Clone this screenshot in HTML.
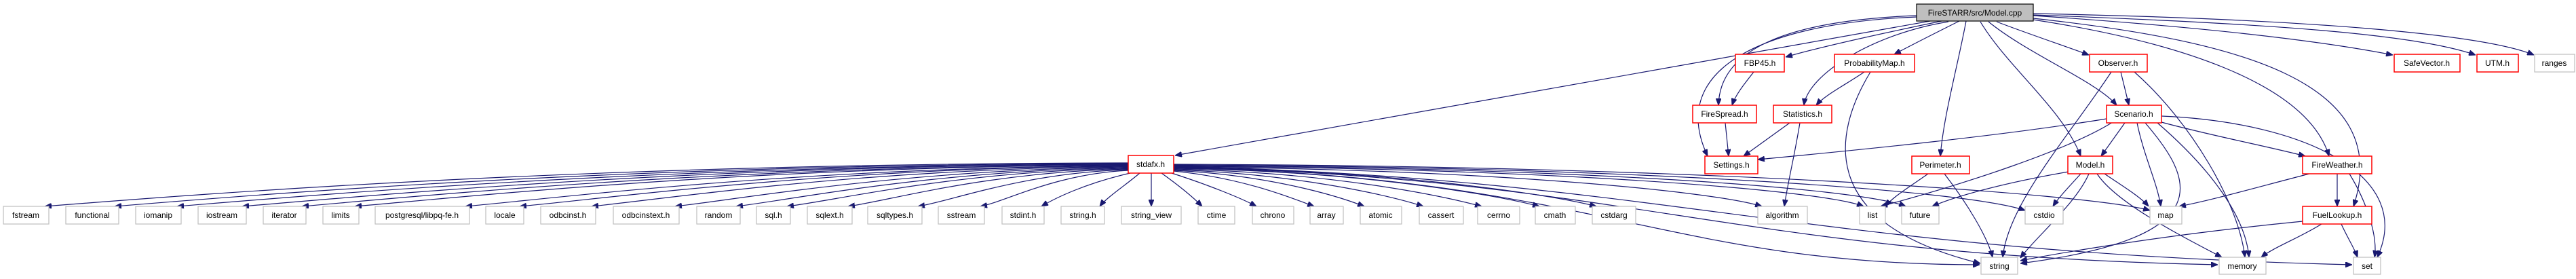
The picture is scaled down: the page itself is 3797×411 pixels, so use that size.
<!DOCTYPE html>
<html><head><meta charset="utf-8"><style>
html,body{margin:0;padding:0;background:#fff;}
svg{display:block;}
text{font-family:"Liberation Sans",sans-serif;font-size:12px;text-anchor:middle;fill:#000;}
.n{fill:#fff;stroke:#bfbfbf;stroke-width:1.2;}
.r{fill:#fff;stroke:#ff0000;stroke-width:1.5;}
.e{fill:none;stroke:#191970;stroke-width:1.2;marker-end:url(#a);}
</style></head><body>
<svg width="3797" height="411" viewBox="0 0 3797 411" xmlns="http://www.w3.org/2000/svg">
<defs><marker id="a" markerUnits="userSpaceOnUse" markerWidth="10" markerHeight="8" refX="10" refY="4" orient="auto"><path d="M0,0 L10,4 L0,8 z" fill="#191970" stroke="#191970"/></marker></defs>

<!-- edges from root -->
<path class="e" d="M2845,31 L1732,229"/>
<path class="e" d="M2862,31 C2770,50 2680,70 2632,84"/>
<path class="e" d="M2888,31 C2860,45 2820,65 2792,80"/>
<path class="e" d="M2825,23 C2640,30 2535,70 2533,155"/>
<path class="e" d="M2872,32 C2760,50 2665,110 2659,155"/>
<path class="e" d="M2825,25 C2580,35 2460,110 2517,230"/>
<path class="e" d="M2898,31 C2885,100 2865,170 2860,230"/>
<path class="e" d="M2919,32 C2960,100 3040,160 3067,230"/>
<path class="e" d="M2943,32 C2990,50 3050,70 3079,81"/>
<path class="e" d="M2931,32 C2990,80 3090,120 3120,155"/>
<path class="e" d="M2997,29 C3200,60 3400,120 3433,230"/>
<path class="e" d="M2997,27 C3300,60 3530,120 3469,304"/>
<path class="e" d="M2997,23 C3250,40 3420,60 3527,81"/>
<path class="e" d="M2997,22 C3350,35 3560,50 3649,81"/>
<path class="e" d="M2997,20 C3400,28 3660,50 3735,81"/>

<!-- mid edges -->
<path class="e" d="M2585,106 C2570,125 2558,140 2553,155"/>
<path class="e" d="M2543,181 L2548,230"/>
<path class="e" d="M2748,106 C2720,125 2690,140 2677,155"/>
<path class="e" d="M2757,106 C2700,200 2680,330 2919,388"/>
<path class="e" d="M2638,181 L2570,230"/>
<path class="e" d="M2653,181 C2645,230 2635,270 2630,304"/>
<path class="e" d="M3126,106 L3138,155"/>
<path class="e" d="M3112,106 C3050,200 2960,300 2952,379"/>
<path class="e" d="M3146,106 C3230,180 3300,300 3309,379"/>
<path class="e" d="M3105,175 C2950,200 2750,220 2591,235"/>
<path class="e" d="M3114,180 C3050,220 2900,270 2772,304"/>
<path class="e" d="M3132,181 L3097,230"/>
<path class="e" d="M3150,181 C3160,230 3180,270 3185,304"/>
<path class="e" d="M3162,181 C3230,260 3280,350 2978,388"/>
<path class="e" d="M3180,181 C3260,250 3310,320 3315,379"/>
<path class="e" d="M3186,180 C3260,200 3340,215 3398,230"/>
<path class="e" d="M3186,171 C3400,180 3560,260 3504,379"/>
<path class="e" d="M2842,256 C2815,275 2790,290 2779,304"/>
<path class="e" d="M2866,256 C2900,300 2930,350 2937,379"/>
<path class="e" d="M3049,253 C2950,270 2880,290 2848,304"/>
<path class="e" d="M3067,256 C3050,275 3035,290 3026,304"/>
<path class="e" d="M3102,256 C3130,275 3155,290 3167,304"/>
<path class="e" d="M3079,256 C3060,300 3000,350 2978,380"/>
<path class="e" d="M3091,256 C3120,300 3220,350 3275,379"/>
<path class="e" d="M3404,256 C3330,275 3260,295 3212,304"/>
<path class="e" d="M3445,256 L3445,304"/>
<path class="e" d="M3463,256 C3490,300 3505,350 3500,379"/>
<path class="e" d="M3394,326 C3200,345 3050,370 2978,384"/>
<path class="e" d="M3422,330 C3390,350 3350,365 3333,379"/>
<path class="e" d="M3451,330 C3460,350 3470,365 3475,379"/>

<!-- stdafx left fan -->
<path class="e" d="M1663,240 C865,241 306,285 66,304"/>
<path class="e" d="M1663,241 C915,242 390,286 169,304"/>
<path class="e" d="M1663,242 C962,243 470,287 261,304"/>
<path class="e" d="M1663,242 C1010,244 550,288 357,304"/>
<path class="e" d="M1663,243 C1054,245 620,289 445,304"/>
<path class="e" d="M1663,243 C1093,246 690,290 523,304"/>
<path class="e" d="M1663,244 C1175,247 830,291 686,304"/>
<path class="e" d="M1663,244 C1215,248 900,292 766,304"/>
<path class="e" d="M1663,245 C1268,249 990,292 872,304"/>
<path class="e" d="M1663,246 C1330,250 1095,293 995,304"/>
<path class="e" d="M1663,247 C1375,251 1170,294 1085,304"/>
<path class="e" d="M1663,248 C1410,252 1235,295 1160,304"/>
<path class="e" d="M1663,249 C1455,253 1310,296 1250,304"/>
<path class="e" d="M1663,250 C1510,254 1400,297 1353,304"/>
<path class="e" d="M1663,251 C1555,256 1480,298 1445,304"/>
<path class="e" d="M1666,255 C1600,270 1555,292 1535,304"/>
<path class="e" d="M1680,255 C1660,272 1630,292 1621,304"/>
<path class="e" d="M1697,255 L1697,304"/>
<!-- stdafx right fan -->
<path class="e" d="M1712,255 C1740,275 1760,292 1772,304"/>
<path class="e" d="M1727,255 C1780,272 1830,292 1852,304"/>
<path class="e" d="M1730,252 C1830,262 1900,290 1937,304"/>
<path class="e" d="M1730,251 C1870,258 1970,288 2011,304"/>
<path class="e" d="M1730,250 C1910,256 2050,288 2098,304"/>
<path class="e" d="M1730,249 C1960,254 2120,287 2184,304"/>
<path class="e" d="M1730,248 C2000,252 2200,286 2269,304"/>
<path class="e" d="M1730,247 C2040,250 2280,285 2353,304"/>
<path class="e" d="M1730,246 C2160,248 2520,280 2597,304"/>
<path class="e" d="M1730,245 C2250,247 2680,278 2747,304"/>
<path class="e" d="M1730,244 C2300,246 2740,276 2809,304"/>
<path class="e" d="M1730,243 C2400,245 2900,280 2985,310"/>
<path class="e" d="M1730,242 C2500,244 3080,285 3169,310"/>
<path class="e" d="M1730,247 C2350,260 2450,390 2918,390"/>
<path class="e" d="M1730,246 C2400,262 2550,375 3269,390"/>
<path class="e" d="M1730,245 C2450,262 2650,370 3467,390"/>

<!-- nodes -->
<rect x="2825" y="6" width="172" height="25" fill="#bfbfbf" stroke="#000" stroke-width="1.2"/><text x="2911" y="23">FireSTARR/src/Model.cpp</text>
<rect class="r" x="1663" y="229" width="67" height="26"/><text x="1696" y="246">stdafx.h</text>
<rect class="r" x="2558" y="80" width="72" height="26"/><text x="2594" y="97">FBP45.h</text>
<rect class="r" x="2704" y="80" width="118" height="26"/><text x="2763" y="97">ProbabilityMap.h</text>
<rect class="r" x="3080" y="80" width="85" height="26"/><text x="3122" y="97">Observer.h</text>
<rect class="r" x="3529" y="80" width="97" height="26"/><text x="3577" y="97">SafeVector.h</text>
<rect class="r" x="3651" y="80" width="61" height="26"/><text x="3681" y="97">UTM.h</text>
<rect class="n" x="3736" y="80" width="59" height="26"/><text x="3765" y="97">ranges</text>
<rect class="r" x="2495" y="155" width="94" height="26"/><text x="2542" y="172">FireSpread.h</text>
<rect class="r" x="2614" y="155" width="86" height="26"/><text x="2657" y="172">Statistics.h</text>
<rect class="r" x="3105" y="155" width="81" height="26"/><text x="3145" y="172">Scenario.h</text>
<rect class="r" x="2513" y="230" width="78" height="26"/><text x="2552" y="247">Settings.h</text>
<rect class="r" x="2818" y="230" width="85" height="26"/><text x="2860" y="247">Perimeter.h</text>
<rect class="r" x="3048" y="230" width="66" height="26"/><text x="3081" y="247">Model.h</text>
<rect class="r" x="3394" y="230" width="102" height="26"/><text x="3445" y="247">FireWeather.h</text>
<rect class="r" x="3394" y="304" width="102" height="26"/><text x="3445" y="321">FuelLookup.h</text>

<rect class="n" x="5" y="304" width="67" height="26"/><text x="38" y="321">fstream</text>
<rect class="n" x="97" y="304" width="78" height="26"/><text x="136" y="321">functional</text>
<rect class="n" x="200" y="304" width="67" height="26"/><text x="233" y="321">iomanip</text>
<rect class="n" x="292" y="304" width="71" height="26"/><text x="327" y="321">iostream</text>
<rect class="n" x="388" y="304" width="63" height="26"/><text x="419" y="321">iterator</text>
<rect class="n" x="476" y="304" width="53" height="26"/><text x="502" y="321">limits</text>
<rect class="n" x="553" y="304" width="139" height="26"/><text x="622" y="321">postgresql/libpq-fe.h</text>
<rect class="n" x="716" y="304" width="56" height="26"/><text x="744" y="321">locale</text>
<rect class="n" x="797" y="304" width="81" height="26"/><text x="837" y="321">odbcinst.h</text>
<rect class="n" x="904" y="304" width="97" height="26"/><text x="952" y="321">odbcinstext.h</text>
<rect class="n" x="1027" y="304" width="64" height="26"/><text x="1059" y="321">random</text>
<rect class="n" x="1115" y="304" width="50" height="26"/><text x="1140" y="321">sql.h</text>
<rect class="n" x="1190" y="304" width="66" height="26"/><text x="1223" y="321">sqlext.h</text>
<rect class="n" x="1279" y="304" width="80" height="26"/><text x="1319" y="321">sqltypes.h</text>
<rect class="n" x="1383" y="304" width="68" height="26"/><text x="1417" y="321">sstream</text>
<rect class="n" x="1477" y="304" width="62" height="26"/><text x="1508" y="321">stdint.h</text>
<rect class="n" x="1564" y="304" width="64" height="26"/><text x="1596" y="321">string.h</text>
<rect class="n" x="1653" y="304" width="88" height="26"/><text x="1697" y="321">string_view</text>
<rect class="n" x="1766" y="304" width="54" height="26"/><text x="1793" y="321">ctime</text>
<rect class="n" x="1846" y="304" width="61" height="26"/><text x="1876" y="321">chrono</text>
<rect class="n" x="1931" y="304" width="49" height="26"/><text x="1955" y="321">array</text>
<rect class="n" x="2005" y="304" width="61" height="26"/><text x="2035" y="321">atomic</text>
<rect class="n" x="2092" y="304" width="65" height="26"/><text x="2124" y="321">cassert</text>
<rect class="n" x="2178" y="304" width="62" height="26"/><text x="2209" y="321">cerrno</text>
<rect class="n" x="2263" y="304" width="59" height="26"/><text x="2292" y="321">cmath</text>
<rect class="n" x="2347" y="304" width="64" height="26"/><text x="2379" y="321">cstdarg</text>
<rect class="n" x="2591" y="304" width="73" height="26"/><text x="2627" y="321">algorithm</text>
<rect class="n" x="2741" y="304" width="38" height="26"/><text x="2760" y="321">list</text>
<rect class="n" x="2803" y="304" width="55" height="26"/><text x="2830" y="321">future</text>
<rect class="n" x="2985" y="304" width="56" height="26"/><text x="3013" y="321">cstdio</text>
<rect class="n" x="3169" y="304" width="47" height="26"/><text x="3192" y="321">map</text>
<rect class="n" x="2920" y="379" width="54" height="25"/><text x="2947" y="396">string</text>
<rect class="n" x="3271" y="379" width="69" height="25"/><text x="3305" y="396">memory</text>
<rect class="n" x="3469" y="379" width="40" height="25"/><text x="3489" y="396">set</text>
</svg>
</body></html>
